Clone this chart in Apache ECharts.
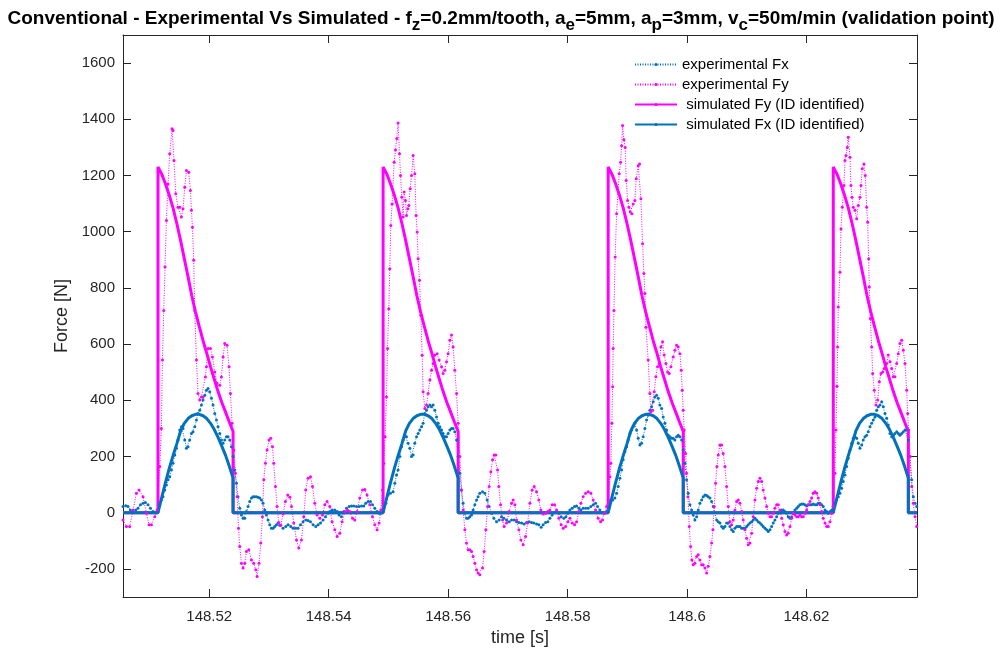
<!DOCTYPE html>
<html><head><meta charset="utf-8">
<script src="https://cdn.jsdelivr.net/npm/echarts@6/dist/echarts.min.js"></script>
<style>html,body{margin:0;padding:0;background:#fff}#c{width:1002px;height:655px}</style>
</head><body><div id="c"></div>
<script>
// time values are milliseconds after T0 seconds
const T0 = 148.5;
const xMinMs = 5.56, xMaxMs = 138.51;
const yMin = -300, yMax = 1700;
const xTicks = [148.52, 148.54, 148.56, 148.58, 148.6, 148.62];
const yTicks = [-200, 0, 200, 400, 600, 800, 1000, 1200, 1400, 1600];

const expFxT = [5.56,6.02,6.40,6.80,7.24,7.69,8.07,8.48,8.91,9.31,9.75,10.15,10.59,11.04,11.42,11.71,11.99,12.26,12.55,12.83,13.10,13.38,13.67,13.94,14.22,14.51,14.77,15.06,15.34,15.61,15.90,16.18,16.45,16.73,17.02,17.29,17.57,17.86,18.12,18.41,18.69,18.96,19.25,19.53,19.80,20.08,20.37,20.64,20.92,21.21,21.47,21.76,22.04,22.31,22.60,22.88,23.15,23.43,23.72,23.99,24.27,24.56,24.82,25.11,25.39,25.66,25.95,26.23,26.50,26.78,27.07,27.34,27.62,27.91,28.17,28.46,28.74,29.01,29.30,29.58,29.85,30.13,30.42,30.69,30.97,31.26,31.52,31.81,32.36,32.81,33.20,33.65,34.04,34.49,34.87,35.28,35.71,36.16,36.55,36.95,37.39,37.84,38.23,38.63,39.06,39.46,39.90,40.18,40.57,41.02,41.41,41.74,42.14,42.53,42.98,43.42,43.82,44.20,44.66,45.09,45.50,45.88,46.21,46.60,47.00,47.34,47.72,48.11,48.44,48.73,49.11,49.57,49.95,50.35,50.79,51.07,51.36,51.62,51.92,52.20,52.46,52.75,53.03,53.30,53.59,53.87,54.14,54.42,54.71,54.98,55.26,55.55,55.81,56.10,56.38,56.65,56.94,57.22,57.49,57.77,58.06,58.33,58.61,58.90,59.16,59.45,59.73,60.00,60.29,60.57,60.84,61.12,61.41,61.68,61.96,62.24,62.51,62.80,63.08,63.35,63.63,63.92,64.19,64.47,64.76,65.02,65.31,65.76,66.15,66.53,66.87,67.27,67.66,68.11,68.55,68.94,69.33,69.78,70.22,70.62,71.06,71.46,71.84,72.30,72.73,73.13,73.57,73.97,74.36,74.81,75.19,75.58,75.91,76.32,76.70,77.04,77.42,77.82,78.16,78.54,78.93,79.38,79.72,80.05,80.39,80.77,81.17,81.51,81.89,82.23,82.61,83.02,83.45,83.90,84.29,84.69,85.02,85.41,85.80,86.13,86.53,86.87,87.20,87.54,87.92,88.21,88.48,88.76,89.05,89.31,89.60,89.88,90.15,90.44,90.72,90.99,91.27,91.56,91.83,92.11,92.40,92.66,92.95,93.23,93.50,93.78,94.07,94.34,94.62,94.91,95.18,95.46,95.75,96.01,96.30,96.58,96.85,97.14,97.42,97.69,97.97,98.26,98.53,98.81,99.10,99.36,99.65,99.93,100.20,100.49,100.77,101.04,101.32,101.61,101.88,102.16,102.45,102.71,103.00,103.28,103.55,103.84,104.12,104.39,104.96,105.23,105.51,105.80,106.06,106.35,106.63,106.90,107.19,107.47,107.74,108.02,108.31,108.58,108.86,109.15,109.41,109.70,109.98,110.25,110.54,110.82,111.09,111.37,111.66,111.93,112.21,112.50,112.76,113.05,113.33,113.60,113.89,114.17,114.44,114.72,115.01,115.28,115.56,115.85,116.11,116.40,116.68,116.95,117.24,117.52,117.79,118.07,118.36,118.63,118.91,119.20,119.46,119.75,120.03,120.30,120.59,120.87,121.14,121.42,121.71,121.98,122.26,122.55,122.81,123.10,123.38,123.65,123.94,124.22,124.49,124.77,125.05,125.33,125.61,125.89,126.16,126.45,126.73,127.00,127.29,127.57,127.84,128.12,128.41,128.68,128.96,129.25,129.51,129.80,130.08,130.35,130.64,130.92,131.19,131.47,131.76,132.03,132.31,132.60,132.87,133.15,133.43,133.70,133.99,134.27,134.54,134.82,135.11,135.38,135.66,135.95,136.22,136.50,136.78,137.05,137.34,137.62,137.89,138.18,138.46];
const expFx = [22,25,22,10,4,10,16,28,34,36,28,16,4,0,10,28,45,57,81,99,117,128,152,176,205,229,259,294,306,300,259,229,235,259,282,288,306,330,353,365,383,401,418,436,442,430,407,383,353,330,306,282,259,247,259,270,270,259,235,200,152,105,57,16,-8,-20,-20,4,22,40,52,57,57,57,55,52,45,34,10,-8,-26,-43,-55,-55,-49,-43,-37,-45,-55,-49,-43,-49,-55,-55,-55,-43,-32,-26,-28,-32,-43,-49,-43,-37,-26,-14,-2,4,10,10,4,-8,-14,4,16,22,24,24,22,22,24,24,34,40,40,28,16,4,-2,-2,10,34,63,69,75,105,134,152,200,235,259,276,270,247,229,200,205,247,270,282,294,306,318,353,365,377,383,377,383,365,341,318,306,294,282,270,270,282,294,300,300,288,259,200,140,81,34,-2,-20,-20,-14,-8,10,28,45,57,69,75,69,45,22,-2,-20,-32,-26,-14,-20,-26,-32,-26,-26,-32,-35,-37,-40,-35,-32,-35,-37,-40,-43,-52,-43,-35,-32,-20,-8,0,4,-2,-14,-20,-14,-2,10,16,22,24,16,10,16,16,16,22,28,34,22,10,0,-2,4,22,40,45,52,69,93,123,152,188,217,235,259,282,294,306,318,294,265,241,247,270,300,330,347,365,377,395,412,418,407,383,371,341,318,294,276,270,265,265,259,270,276,270,259,223,176,117,69,28,10,-8,-26,-14,10,34,45,57,63,61,57,52,40,22,-26,-32,-37,-49,-55,-49,-37,-37,-49,-61,-67,-55,-49,-49,-49,-55,-55,-55,-49,-43,-37,-32,-26,-20,-26,-32,-37,-43,-49,-55,-61,-67,-61,-49,-37,-26,-14,-2,4,10,10,4,-2,-14,-20,-14,-2,10,16,22,28,31,31,28,24,28,28,28,31,28,28,34,34,28,22,10,4,-2,4,10,22,34,45,57,69,87,111,134,164,194,223,247,265,270,265,247,229,241,259,270,276,288,306,318,330,341,365,377,383,395,377,353,336,312,282,270,276,282,288,282,276,282,288,294,294,259,200,117,57,34,22];

const expFyT = [5.56,6.13,6.68,7.24,7.81,8.24,8.91,9.48,9.92,10.32,10.87,11.26,11.71,11.99,12.16,12.38,12.60,12.83,13.10,13.38,13.77,13.94,14.10,14.39,14.77,15.06,15.34,15.61,15.90,16.18,16.57,16.85,17.02,17.19,17.40,17.57,17.86,18.12,18.41,18.69,18.96,19.36,19.53,19.80,20.20,20.54,20.92,21.31,21.76,22.04,22.31,22.60,22.98,23.32,23.55,23.82,24.10,24.39,24.66,24.90,25.11,25.39,25.66,25.95,26.23,26.62,27.07,27.45,27.79,28.01,28.34,28.63,28.91,29.13,29.41,29.68,30.02,30.30,30.59,30.80,31.09,31.36,31.64,31.98,32.36,32.76,33.15,33.50,33.77,34.15,34.61,34.99,35.44,35.83,36.16,36.55,36.95,37.29,37.67,38.06,38.51,38.96,39.35,39.73,40.18,40.57,41.02,41.41,41.86,42.25,42.70,43.15,43.53,43.99,44.37,44.76,45.21,45.66,46.05,46.43,46.88,47.34,47.72,48.11,48.44,48.73,49.01,49.23,49.45,49.68,49.85,50.07,50.23,50.40,50.62,50.96,51.19,51.41,51.62,51.86,52.03,52.24,52.46,52.63,52.86,53.03,53.25,53.42,53.64,53.87,54.14,54.42,54.64,54.81,54.98,55.21,55.43,55.65,55.81,56.10,56.38,56.65,56.94,57.22,57.49,57.77,58.16,58.49,58.90,59.16,59.45,59.73,60.00,60.29,60.57,60.84,61.12,61.41,61.68,61.96,62.24,62.51,62.80,63.08,63.35,63.63,63.92,64.19,64.47,64.76,65.02,65.31,65.76,66.03,66.32,66.60,66.87,67.15,67.44,67.71,67.99,68.28,68.49,68.78,69.11,69.38,69.78,70.22,70.62,70.89,71.17,71.46,71.84,72.18,72.56,72.97,73.30,73.69,74.07,74.41,74.81,75.19,75.53,75.91,76.32,76.70,77.04,77.42,77.82,78.16,78.54,78.93,79.26,79.67,80.05,80.39,80.77,81.17,81.51,81.89,82.23,82.61,83.02,83.45,83.90,84.29,84.69,85.13,85.53,85.86,86.20,86.53,86.80,87.09,87.25,87.42,87.54,87.64,87.76,87.97,88.21,88.64,88.88,89.05,89.21,89.43,89.65,89.82,90.05,90.27,90.49,90.77,90.99,91.27,91.49,91.83,92.06,92.28,92.56,92.78,92.95,93.12,93.50,93.78,93.95,94.24,94.51,94.79,95.07,95.34,95.63,95.91,96.18,96.46,96.75,97.02,97.30,97.69,97.97,98.26,98.52,98.81,99.03,99.20,99.36,99.53,99.77,99.93,100.15,100.37,100.60,100.82,101.04,101.32,101.61,101.88,102.16,102.45,102.71,103.00,103.28,103.55,103.84,104.12,104.34,104.56,104.79,105.01,105.23,105.51,105.80,106.06,106.35,106.63,106.90,107.19,107.47,107.74,108.02,108.31,108.58,108.86,109.15,109.41,109.70,109.98,110.25,110.54,110.82,111.09,111.37,111.66,111.93,112.21,112.50,112.76,113.05,113.33,113.60,113.89,114.17,114.44,114.72,115.01,115.28,115.56,115.85,116.11,116.40,116.68,116.95,117.24,117.52,117.79,118.07,118.36,118.63,118.91,119.20,119.46,119.75,120.03,120.30,120.59,120.87,121.14,121.42,121.71,121.98,122.26,122.55,122.81,123.10,123.38,123.65,123.94,124.22,124.49,124.77,124.94,125.11,125.22,125.33,125.61,125.78,126.00,126.28,126.45,126.62,126.83,127.00,127.29,127.45,127.62,127.84,128.12,128.41,128.68,128.96,129.13,129.35,129.63,129.85,130.08,130.25,130.42,130.52,130.69,130.92,131.09,131.36,131.64,131.93,132.20,132.48,132.76,133.03,133.43,133.70,133.99,134.27,134.54,134.82,135.11,135.38,135.66,135.95,136.22,136.50,136.78,136.95,137.12,137.34,137.62,137.89,138.18,138.46];
const expFy = [-26,-49,-49,10,69,81,57,-2,-43,-43,-14,10,164,300,543,720,874,1040,1170,1277,1366,1360,1253,1135,1087,1087,1052,1082,1158,1218,1212,1147,1076,1016,898,720,543,424,401,412,412,483,519,584,584,554,501,460,454,483,554,602,596,519,424,318,223,140,57,-55,-120,-180,-197,-180,-138,-132,-168,-180,-203,-227,-180,-108,-14,117,176,223,259,265,235,176,93,22,-35,-45,-5,40,63,55,22,-37,-97,-126,-97,-14,81,123,128,93,34,-8,-20,-8,28,40,22,-32,-61,-85,-73,-32,4,10,4,-20,-26,4,52,81,83,63,28,-14,-43,-61,-37,10,81,176,270,412,584,726,868,1022,1099,1247,1291,1332,1387,1277,1200,1123,1052,1141,1111,1058,1082,1093,1153,1200,1271,1206,1058,999,904,827,703,560,430,371,383,424,472,507,531,561,566,543,519,495,507,537,566,614,632,590,507,424,318,200,81,10,-61,-108,-132,-132,-138,-156,-180,-203,-215,-221,-197,-138,-61,22,93,146,188,205,205,152,93,28,-26,-49,-37,4,34,45,28,-26,-61,-97,-114,-85,-37,34,81,93,75,45,10,-5,-2,4,10,28,28,10,-20,-43,-55,-49,-32,-20,-37,-43,-32,4,34,57,69,75,69,45,10,-20,-32,-26,-2,22,45,128,176,318,448,584,720,910,1064,1206,1247,1306,1378,1327,1300,1182,1111,1087,1070,1064,1099,1111,1188,1235,1241,1117,957,851,780,660,543,424,359,365,430,484,519,531,590,608,561,531,501,495,519,554,578,596,590,566,507,436,365,294,211,140,57,-49,-120,-168,-185,-180,-156,-150,-168,-185,-185,-197,-215,-191,-156,-108,-61,22,105,164,205,241,241,211,164,93,22,-32,-43,-26,10,40,45,34,4,-26,-61,-91,-114,-108,-73,-14,45,87,111,123,111,81,52,22,-2,-14,-14,-2,16,28,28,10,-20,-43,-67,-79,-73,-49,-20,-2,-8,-14,-14,-8,-14,-14,-2,10,28,40,52,69,75,69,52,28,4,-20,-37,-49,-49,-32,-2,22,140,294,450,590,732,856,1010,1087,1164,1253,1271,1300,1336,1265,1164,1123,1087,1076,1046,1093,1123,1164,1224,1241,1200,1087,1034,904,803,691,590,495,436,383,401,466,495,501,513,531,561,537,513,484,484,531,566,602,614,578,531,436,353,294,200,93,34,-14,-49];

// simulated forces: one tooth pass, sampled at fractions of the cut, repeated each tooth
const cutStartMs = [11.42, 49.11, 86.80, 124.49];
const cutLenMs = 12.57;
const simFrac  = [0,0.05,0.1,0.15,0.2,0.25,0.3,0.35,0.4,0.45,0.5,0.55,0.6,0.65,0.7,0.75,0.8,0.85,0.9,0.95,1];
const simFyCut = [1230,1205,1170,1130,1085,1030,970,905,840,772,714,662,612,567,519,475,431,392,358,323,289];
const simFxCut = [0,55,108,158,203,245,290,318,335,345,350,350,345,335,318,296,268,237,204,165,123];

const t = ms => T0 + ms / 1000;
const zip = (ts, vs) => ts.map((m, i) => [t(m), vs[i]]);
function simSeries(shape) {
  const pts = [[t(xMinMs), 0]];
  cutStartMs.forEach(s => {
    pts.push([t(s), 0]);
    shape.forEach((v, i) => pts.push([t(s + simFrac[i] * cutLenMs), v]));
    pts.push([t(s + cutLenMs), 0]);
  });
  pts.push([t(xMaxMs), 0]);
  return pts;
}

const FONT = 'Liberation Sans, Arial, Helvetica, sans-serif';
const AX = '#262626';
const BLUE = '#0072BD', MAG = '#FF00FF';
const fmtX = v => String(parseFloat(v.toFixed(2)));

const chart = echarts.init(document.getElementById('c'), null, {renderer: 'canvas'});
const tickStyle = {inside: true, length: 8, lineStyle: {color: AX, width: 1}};
chart.setOption({
  animation: false,
  backgroundColor: '#fff',
  title: {
    text: 'Conventional - Experimental Vs Simulated - f{s|z}=0.2mm/tooth, a{s|e}=5mm, a{s|p}=3mm, v{s|c}=50m/min (validation point)',
    left: 'center', top: -2,
    textStyle: {fontFamily: FONT, fontSize: 19, fontWeight: 'bold', color: '#000',
      rich: {s: {fontFamily: FONT, fontSize: 17, fontWeight: 'bold', color: '#000', padding: [14, 0, 0, 0]}}}
  },
  legend: {
    orient: 'vertical', left: 629, top: 52, itemWidth: 42, itemHeight: 4, itemGap: 5,
    textStyle: {fontFamily: FONT, fontSize: 15, color: '#000'},
    data: ['experimental Fx', 'experimental Fy', ' simulated Fy (ID identified)', ' simulated Fx (ID identified)']
  },
  grid: {left: 123, right: 85, top: 35, bottom: 58, containLabel: false},
  xAxis: [{
    type: 'value', min: t(xMinMs), max: t(xMaxMs),
    name: 'time [s]', nameLocation: 'middle', nameGap: 30,
    nameTextStyle: {fontFamily: FONT, fontSize: 18, color: AX},
    axisLine: {show: true, onZero: false, lineStyle: {color: AX, width: 1}},
    axisTick: Object.assign({customValues: xTicks}, tickStyle),
    axisLabel: {customValues: xTicks, formatter: fmtX, fontFamily: FONT, fontSize: 15, color: AX, margin: 12},
    splitLine: {show: false}
  }, {
    type: 'value', position: 'top', min: t(xMinMs), max: t(xMaxMs),
    axisLine: {show: true, onZero: false, lineStyle: {color: AX, width: 1}},
    axisTick: Object.assign({customValues: xTicks}, tickStyle),
    axisLabel: {show: false}, splitLine: {show: false}
  }],
  yAxis: [{
    type: 'value', min: yMin, max: yMax,
    name: 'Force [N]', nameLocation: 'middle', nameGap: 46,
    nameTextStyle: {fontFamily: FONT, fontSize: 18, color: AX},
    axisLine: {show: true, onZero: false, lineStyle: {color: AX, width: 1}},
    axisTick: Object.assign({customValues: yTicks}, tickStyle),
    axisLabel: {customValues: yTicks, formatter: v => String(v), fontFamily: FONT, fontSize: 15, color: AX, margin: 8},
    splitLine: {show: false}
  }, {
    type: 'value', position: 'right', min: yMin, max: yMax,
    axisLine: {show: true, onZero: false, lineStyle: {color: AX, width: 1}},
    axisTick: Object.assign({customValues: yTicks}, tickStyle),
    axisLabel: {show: false}, splitLine: {show: false}
  }],
  series: [
    {name: 'experimental Fx', type: 'line', data: zip(expFxT, expFx),
     symbol: 'circle', symbolSize: 3, showSymbol: true,
     lineStyle: {color: BLUE, width: 1, type: [1, 1.5]}, itemStyle: {color: BLUE}, emphasis: {disabled: true}},
    {name: 'experimental Fy', type: 'line', data: zip(expFyT, expFy),
     symbol: 'circle', symbolSize: 3, showSymbol: true,
     lineStyle: {color: MAG, width: 1, type: [1, 1.5]}, itemStyle: {color: MAG}, emphasis: {disabled: true}},
    {name: ' simulated Fy (ID identified)', type: 'line', data: simSeries(simFyCut),
     symbol: 'none', lineStyle: {color: MAG, width: 3}, itemStyle: {color: MAG}, emphasis: {disabled: true}},
    {name: ' simulated Fx (ID identified)', type: 'line', data: simSeries(simFxCut),
     symbol: 'none', lineStyle: {color: BLUE, width: 3}, itemStyle: {color: BLUE}, emphasis: {disabled: true}}
  ]
});
</script></body></html>
